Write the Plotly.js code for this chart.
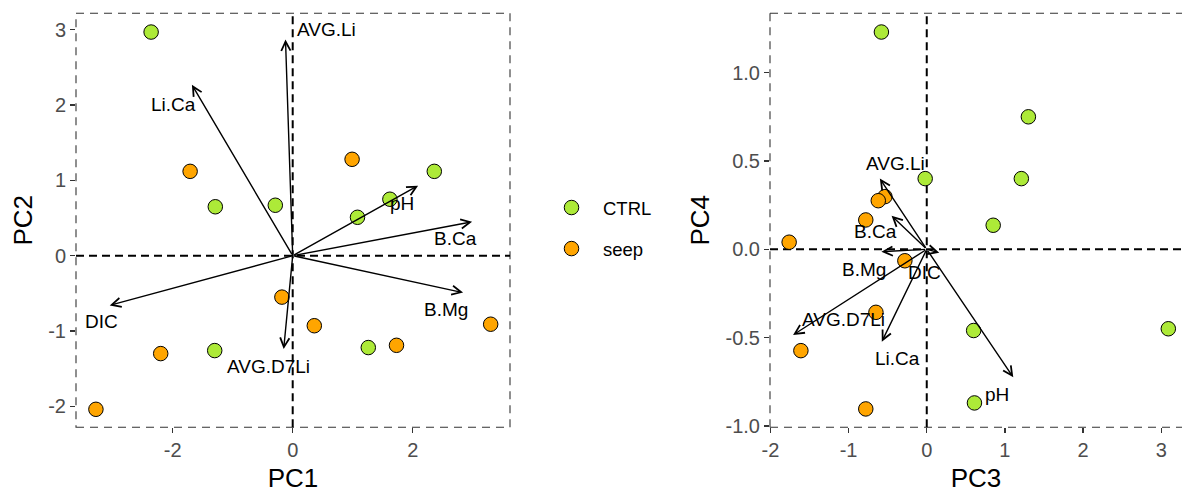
<!DOCTYPE html>
<html>
<head>
<meta charset="utf-8">
<script src="https://cdn.plot.ly/plotly-3.0.1.min.js"></script>
<style>html,body{margin:0;padding:0;background:#fff;}#chart{width:1182px;height:494px;}</style>
</head>
<body>
<div id="chart"></div>
<script>
// ---- data: sample scores ----
const groups = ['CTRL', 'seep'];
const pc1_ctrl = [-2.36, -1.29, -0.29, 1.08, 1.62, 2.36, -1.30, 1.26];
const pc2_ctrl = [2.97, 0.65, 0.67, 0.51, 0.75, 1.12, -1.26, -1.22];
const pc1_seep = [-1.71, 0.99, -0.18, 0.36, 3.30, -2.20, 1.73, -3.28];
const pc2_seep = [1.12, 1.28, -0.55, -0.93, -0.91, -1.30, -1.19, -2.04];
const pc3_ctrl = [-0.58, 1.30, 1.21, -0.02, 0.85, 0.60, 3.09, 0.61];
const pc4_ctrl = [1.23, 0.75, 0.40, 0.40, 0.136, -0.46, -0.45, -0.87];
const pc3_seep = [-1.76, -0.535, -0.62, -0.78, -0.28, -0.65, -1.61, -0.78];
const pc4_seep = [0.04, 0.298, 0.275, 0.166, -0.065, -0.357, -0.574, -0.904];
// ---- data: variable loadings (arrow tips) and label positions ----
const vars = ['AVG.Li', 'Li.Ca', 'pH', 'B.Ca', 'B.Mg', 'DIC', 'AVG.D7Li'];
const load1 = [-0.12, -1.68, 2.09, 2.99, 2.84, -3.05, -0.15];
const load2 = [2.87, 2.27, 0.93, 0.45, -0.49, -0.66, -1.24];
const lab1 = [0.555, -1.98, 1.82, 2.71, 2.55, -3.19, -0.41];
const lab2 = [3.0, 2.01, 0.69, 0.23, -0.71, -0.88, -1.47];
const load3 = [-0.60, -0.575, 1.107, -0.45, -0.58, 0.16, -1.71];
const load4 = [0.40, -0.523, -0.725, 0.19, -0.014, -0.02, -0.485];
const lab3 = [-0.405, -0.376, 0.90, -0.657, -0.80, -0.03, -1.066];
const lab4 = [0.487, -0.617, -0.825, 0.10, -0.117, -0.132, -0.40];
// ---- ticks ----
const ticks1 = [-2, 0, 2];
const ticks2 = [-2, -1, 0, 1, 2, 3];
const ticks3 = [-2, -1, 0, 1, 2, 3];
const ticks4 = [-1, -0.5, 0, 0.5, 1];

const FONT = 'Liberation Sans, Arial, sans-serif';
const colors = {CTRL: '#ADEA38', seep: '#FFA500'};

function pts(x, y, g, xa, ya, showleg) {
  return {
    type: 'scatter', mode: 'markers', x: x, y: y, name: g, xaxis: xa, yaxis: ya,
    legendgroup: g, showlegend: showleg,
    marker: {size: 14.5, color: colors[g], line: {color: '#000', width: 1}},
    hoverinfo: 'skip'
  };
}

const data = [
  pts(pc1_ctrl, pc2_ctrl, 'CTRL', 'x', 'y', true),
  pts(pc1_seep, pc2_seep, 'seep', 'x', 'y', true),
  pts(pc3_ctrl, pc4_ctrl, 'CTRL', 'x2', 'y2', false),
  pts(pc3_seep, pc4_seep, 'seep', 'x2', 'y2', false)
];

const annotations = [];
function arrows(lx, ly, tx, ty, xr, yr) {
  for (let i = 0; i < vars.length; i++) {
    annotations.push({
      x: lx[i], y: ly[i], ax: 0, ay: 0, xref: xr, yref: yr, axref: xr, ayref: yr,
      text: '', showarrow: true, arrowhead: 5, arrowsize: 1.3, arrowwidth: 1.4,
      arrowcolor: '#000', standoff: 0, startstandoff: 0
    });
    annotations.push({
      x: tx[i], y: ty[i], xref: xr, yref: yr, text: vars[i], showarrow: false,
      xanchor: 'center', yanchor: 'middle',
      font: {family: FONT, size: 19, color: '#000'}
    });
  }
}
arrows(load1, load2, lab1, lab2, 'x', 'y');
arrows(load3, load4, lab3, lab4, 'x2', 'y2');

const borderLine = {color: '#333', width: 1.1, dash: '8px,6px'};
const zeroLine = {color: '#000', width: 2, dash: '8px,5px'};
const shapes = [
  {type: 'rect', xref: 'x domain', yref: 'y domain', x0: 0, x1: 1, y0: 0, y1: 1, line: borderLine, layer: 'below'},
  {type: 'line', xref: 'x2 domain', yref: 'y2 domain', x0: 0, x1: 1, y0: 1, y1: 1, line: borderLine, layer: 'below'},
  {type: 'line', xref: 'x2 domain', yref: 'y2 domain', x0: 0, x1: 1, y0: 0, y1: 0, line: borderLine, layer: 'below'},
  {type: 'line', xref: 'x2 domain', yref: 'y2 domain', x0: 0, x1: 0, y0: 0, y1: 1, line: borderLine, layer: 'below'},
  {type: 'line', xref: 'x', yref: 'y domain', x0: 0, x1: 0, y0: 0, y1: 1, line: zeroLine, layer: 'below'},
  {type: 'line', xref: 'x domain', yref: 'y', x0: 0, x1: 1, y0: 0, y1: 0, line: zeroLine, layer: 'below'},
  {type: 'line', xref: 'x2', yref: 'y2 domain', x0: 0, x1: 0, y0: 0, y1: 1, line: zeroLine, layer: 'below'},
  {type: 'line', xref: 'x2 domain', yref: 'y2', x0: 0, x1: 1, y0: 0, y1: 0, line: zeroLine, layer: 'below'}
];

function axis(title, range, dom, tv, fmt, anchor, standoff) {
  return {
    title: {text: title, font: {family: FONT, size: 26, color: '#000'}, standoff: standoff},
    range: range, domain: dom, anchor: anchor,
    tickmode: 'array', tickvals: tv, ticktext: tv.map(v => fmt ? v.toFixed(1) : String(v)),
    ticks: 'outside', ticklen: 5, tickwidth: 1.3, tickcolor: '#333',
    tickfont: {family: FONT, size: 20, color: '#4D4D4D'},
    showgrid: false, zeroline: false, showline: false, automargin: false, fixedrange: true
  };
}

const yd = [1 - 427.3 / 494, 1 - 13.3 / 494];
const layout = {
  width: 1182, height: 494,
  margin: {l: 0, r: 0, t: 0, b: 0},
  paper_bgcolor: '#fff', plot_bgcolor: '#fff',
  xaxis: axis('PC1', [-3.612, 3.622], [76 / 1182, 510 / 1182], ticks1, false, 'y', 8),
  yaxis: axis('PC2', [-2.279, 3.219], yd, ticks2, false, 'x', 8),
  xaxis2: axis('PC3', [-2.005, 3.265], [770 / 1182, 1], ticks3, false, 'y2', 8),
  yaxis2: axis('PC4', [-1.008, 1.336], yd, ticks4, true, 'x2', 8),
  showlegend: true,
  legend: {
    x: 540 / 1182, y: 1 - 189 / 494, xanchor: 'left', yanchor: 'top',
    font: {family: FONT, size: 18.5, color: '#000'},
    traceorder: 'grouped', tracegroupgap: 14, itemwidth: 53, bgcolor: 'rgba(0,0,0,0)'
  },
  shapes: shapes,
  annotations: annotations
};

Plotly.newPlot('chart', data, layout, {staticPlot: true, displayModeBar: false});
</script>
</body>
</html>
